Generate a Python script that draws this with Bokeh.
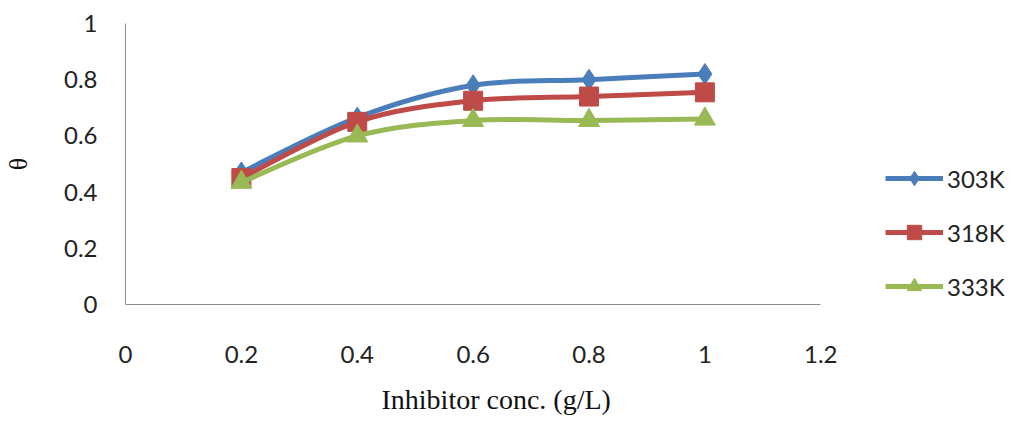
from bokeh.plotting import figure
from bokeh.models import Legend, LegendItem, FixedTicker, Range1d, Title
from bokeh.embed import file_html
from bokeh.resources import INLINE

conc = [0.2, 0.4, 0.6, 0.8, 1.0]
series_names = ["303K", "318K", "333K"]
theta_303 = [0.47, 0.665, 0.78, 0.80, 0.82]
theta_318 = [0.45, 0.65, 0.725, 0.74, 0.755]
theta_333 = [0.435, 0.60, 0.655, 0.655, 0.66]
x_ticks = [0, 0.2, 0.4, 0.6, 0.8, 1.0, 1.2]
y_ticks = [0, 0.2, 0.4, 0.6, 0.8, 1.0]

colors = ["#4A7EBB", "#BE4B48", "#98B954"]
markers = ["diamond", "square", "triangle"]
msizes = [21, 19, 21]

W, H = 1007, 430
LB, RB, TB, BB = 119, 0, 23, 126
frame_w = W - LB - RB
x_end = frame_w * 1.2 / 700.0   # 1.2 sits ~700 px right of 0, rest of frame is legend space

p = figure(width=W, height=H, output_backend="svg", toolbar_location=None,
           x_range=Range1d(0, x_end), y_range=Range1d(0, 1.0),
           min_border_left=LB, min_border_right=RB, min_border_top=TB, min_border_bottom=BB)
p.outline_line_color = None
p.xgrid.grid_line_color = None
p.ygrid.grid_line_color = None
p.background_fill_color = "white"

def smooth(xs, ys):
    n = len(xs)
    x0, y0, x1, y1, cx0, cy0, cx1, cy1 = [], [], [], [], [], [], [], []
    for i in range(n - 1):
        xm, ym = (xs[i - 1], ys[i - 1]) if i > 0 else (xs[i], ys[i])
        xp, yp = (xs[i + 2], ys[i + 2]) if i + 2 < n else (xs[i + 1], ys[i + 1])
        x0.append(xs[i]); y0.append(ys[i]); x1.append(xs[i + 1]); y1.append(ys[i + 1])
        cx0.append(xs[i] + (xs[i + 1] - xm) / 6); cy0.append(ys[i] + (ys[i + 1] - ym) / 6)
        cx1.append(xs[i + 1] - (xp - xs[i]) / 6); cy1.append(ys[i + 1] - (yp - ys[i]) / 6)
    return dict(x0=x0, y0=y0, x1=x1, y1=y1, cx0=cx0, cy0=cy0, cx1=cx1, cy1=cy1)

items = []
for name, ys, c, m, s in zip(series_names, [theta_303, theta_318, theta_333], colors, markers, msizes):
    d = smooth(conc, ys)
    br = p.bezier(line_color=c, line_width=5, **d)
    sr = p.scatter(conc, ys, marker=m, size=s, fill_color=c, line_color=c)
    items.append(LegendItem(label=name, renderers=[br, sr]))

legend = Legend(items=items, location=(760, 0), glyph_width=58, glyph_height=36,
                label_text_font="Lato", label_text_font_size="24px", label_text_color="#222222",
                spacing=18, padding=0, margin=0, border_line_color=None,
                background_fill_alpha=0, label_standoff=4)
p.add_layout(legend, "center")

for ax in (p.xaxis, p.yaxis):
    ax.axis_line_color = "#8c8c8c"
    ax.axis_line_width = 1
    ax.major_tick_line_color = None
    ax.minor_tick_line_color = None
    ax.major_label_text_font = "Lato"
    ax.major_label_text_font_size = "24px"
    ax.major_label_text_color = "#222222"

p.xaxis.bounds = (0, 1.2)
p.xaxis.ticker = FixedTicker(ticks=x_ticks)
p.yaxis.ticker = FixedTicker(ticks=y_ticks)
p.xaxis.major_label_overrides = {0: "0", 1.0: "1", 1.2: "1.2"}
p.yaxis.major_label_overrides = {0: "0", 1.0: "1"}
p.xaxis.major_label_standoff = 35
p.yaxis.major_label_standoff = 22

xtitle = Title(text="Inhibitor conc. (g/L)", align="left", offset=256, standoff=32,
               text_font="Liberation Serif", text_font_style="normal",
               text_font_size="28px", text_color="#111111")
p.add_layout(xtitle, "below")

p.yaxis.axis_label = "θ"
p.yaxis.axis_label_text_font = "Liberation Serif"
p.yaxis.axis_label_text_font_style = "normal"
p.yaxis.axis_label_text_font_size = "26px"
p.yaxis.axis_label_text_color = "#111111"
p.yaxis.axis_label_standoff = 28

open("out.html", "w").write(file_html(p, INLINE))
